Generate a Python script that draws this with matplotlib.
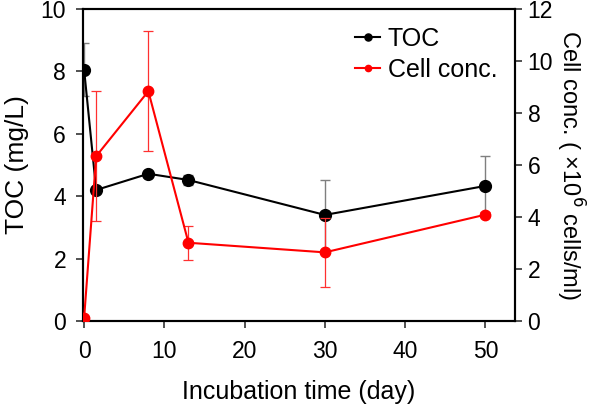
import matplotlib
matplotlib.use("Agg")
import matplotlib.pyplot as plt

plt.rcParams['font.family'] = ['Liberation Sans', 'DejaVu Sans']

days = [0, 1.5, 8, 13, 30, 50]
toc = [8.05, 4.2, 4.72, 4.52, 3.4, 4.33]
toc_err = [0.85, 0.08, 0.06, 0.16, 1.12, 0.97]
cell = [0.13, 6.34, 8.84, 3.01, 2.64, 4.09]
cell_err = [0.0, 2.5, 2.3, 0.65, 1.34, 0.1]

x_ticks = [0, 10, 20, 30, 40, 50]
toc_ticks = [0, 2, 4, 6, 8, 10]
cell_ticks = [0, 2, 4, 6, 8, 10, 12]

fig = plt.figure(figsize=(6.01, 4.12), dpi=100)
ax = fig.add_axes([0.1376, 0.2209, 0.857 - 0.1376, 0.978 - 0.2209])
ax2 = ax.twinx()

ax.errorbar(days, toc, yerr=toc_err, fmt='none', ecolor='#7f7f7f',
            elinewidth=1.0, capsize=3.5, capthick=1.0, zorder=2)
l1, = ax.plot(days, toc, '-o', color='black', lw=1.5, ms=8.5, label='TOC', zorder=3)

ax2.errorbar(days, cell, yerr=cell_err, fmt='none', ecolor='#ff3030',
             elinewidth=0.9, capsize=3.5, capthick=0.9, zorder=2)
l2, = ax2.plot(days, cell, '-o', color='#ff0000', lw=1.5, ms=7.5, label='Cell conc.', zorder=3)

ax.set_xlim(-0.18, 53.7)
ax.set_ylim(0, 10)
ax2.set_ylim(0, 12)
ax.set_xticks(x_ticks)
ax.set_yticks(toc_ticks)
ax2.set_yticks(cell_ticks)

for a in (ax, ax2):
    a.tick_params(direction='out', length=5, width=1.2, labelsize=16.5, color='#333333')
    for s in a.spines.values():
        s.set_linewidth(1.5)
ax.tick_params(axis='x', pad=9)
ax.tick_params(axis='y', pad=7)
ax2.tick_params(axis='y', pad=4)

ax.set_xlabel('Incubation time (day)', fontsize=18, labelpad=12)
ax.set_ylabel('TOC (mg/L)', fontsize=19, labelpad=8)
ax2.set_ylabel('Cell conc. ( ×10$^{6}$ cells/ml)', fontsize=17, rotation=270, labelpad=24)

leg = ax2.legend(handles=[l1, l2], loc='upper right', frameon=False, fontsize=18,
                 handlelength=1.0, handletextpad=0.3, labelspacing=0.3,
                 markerscale=0.6, borderaxespad=0.3, borderpad=0.4)

fig.savefig('out.png', dpi=100)
